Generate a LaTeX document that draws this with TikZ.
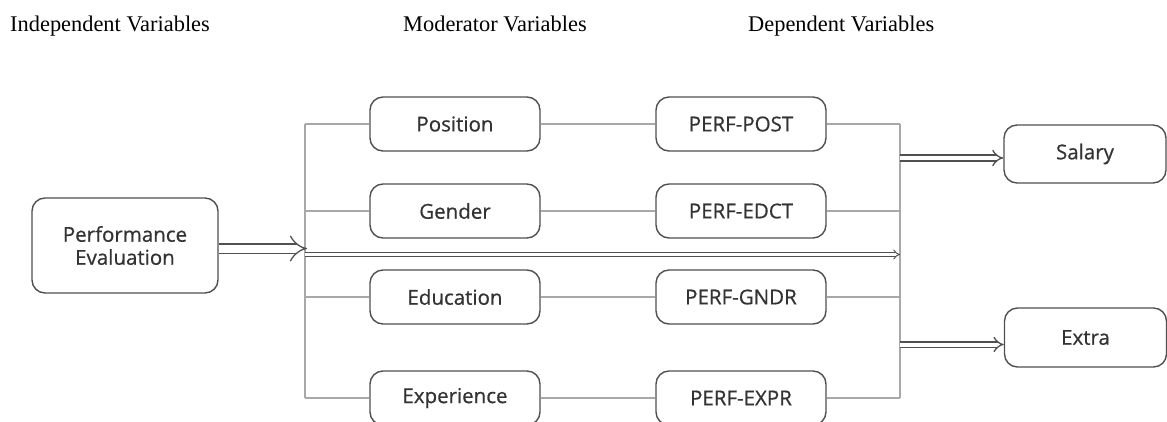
\documentclass[tikz,border=0pt]{standalone}
\usepackage{fontspec}
\setmainfont{Liberation Serif}
\newfontfamily\boxfont{Open Sans}[FakeBold=0.6]
\usetikzlibrary{arrows.meta}
\definecolor{edge}{HTML}{505050}
\definecolor{wire}{HTML}{A8A8A8}
\definecolor{label}{HTML}{333333}
\begin{document}
\begin{tikzpicture}[x=1pt,y=-1pt,
  varbox/.style={draw=edge, line width=1.4pt, rounded corners=13pt, fill=white,
    text=label, font=\boxfont\fontsize{20.5}{25}\selectfont, align=center,
    inner sep=0pt},
  modbox/.style={varbox, minimum width=170, minimum height=54},
  outbox/.style={varbox, minimum width=162, minimum height=58},
  heading/.style={anchor=base west, inner sep=0pt, font=\fontsize{22.4}{26}\selectfont},
  wireline/.style={draw=wire, line width=1.2pt},
  flow/.style={draw=edge, line width=1.3pt, double=white, double distance=#1},
]
\useasboundingbox (0,0) rectangle (1167,421);
\clip (0,0) rectangle (1167,421);

% column headings
\node[heading] (hind) at (10,31) {Independent Variables};
\node[heading] (hmod) at (403,31) {Moderator Variables};
\node[heading] (hdep) at (748,31) {Dependent Variables};

% independent variable
\node[varbox, minimum width=186, minimum height=95] (pe) at (125,245.5) {Performance\\[-2pt]Evaluation};

% moderators
\node[modbox] (pos) at (455,124) {Position};
\node[modbox] (gen) at (455,211) {Gender};
\node[modbox] (edu) at (455,297) {Education};
\node[modbox] (exp) at (455,398) {Experience};

% interaction terms
\node[modbox] (ppost) at (741,124) {PERF-POST};
\node[modbox] (pedct) at (741,211) {PERF-EDCT};
\node[modbox] (pgndr) at (741,297) {PERF-GNDR};
\node[modbox] (pexpr) at (741,398) {PERF-EXPR};

% dependent variables
\node[outbox] (sal) at (1085,154) {Salary};
\node[outbox, minimum height=59] (ext) at (1085.5,337.5) {Extra};

% bus coordinates
\coordinate (l1) at (305,124);
\coordinate (l2) at (305,211);
\coordinate (l3) at (305,297);
\coordinate (l4) at (305,398);
\coordinate (r1) at (900,124);
\coordinate (r2) at (900,211);
\coordinate (r3) at (900,297);
\coordinate (r4) at (900,398);
\coordinate (pa) at (307,248.5);
\coordinate (la) at (305,254.5);
\coordinate (ra) at (900,254.5);
\coordinate (sa) at (900,158);
\coordinate (ea) at (900,344.5);

% vertical buses
\draw[wireline] (l1) -- (l4);
\draw[wireline] (r1) -- (r4);

% rows
\draw[wireline] (l1) -- (pos.west);  \draw[wireline] (pos.east) -- (ppost.west);  \draw[wireline] (ppost.east) -- (r1);
\draw[wireline] (l2) -- (gen.west);  \draw[wireline] (gen.east) -- (pedct.west);  \draw[wireline] (pedct.east) -- (r2);
\draw[wireline] (l3) -- (edu.west);  \draw[wireline] (edu.east) -- (pgndr.west);  \draw[wireline] (pgndr.east) -- (r3);
\draw[wireline] (l4) -- (exp.west);  \draw[wireline] (exp.east) -- (pexpr.west);  \draw[wireline] (pexpr.east) -- (r4);

% arrows
\draw[flow=8pt, -{Implies[length=10pt, width=22pt]}] (pa -| pe.east) -- (pa);
\draw[flow=2.5pt, line width=0.9pt, -{Implies[length=5pt, width=9pt]}] (la) -- (ra);
\draw[flow=4.5pt, -{Implies[length=8pt, width=16pt]}] (sa) -- (sa -| sal.west);
\draw[flow=4pt, -{Implies[length=8pt, width=15pt]}] (ea) -- (ea -| ext.west);
\end{tikzpicture}
\end{document}
